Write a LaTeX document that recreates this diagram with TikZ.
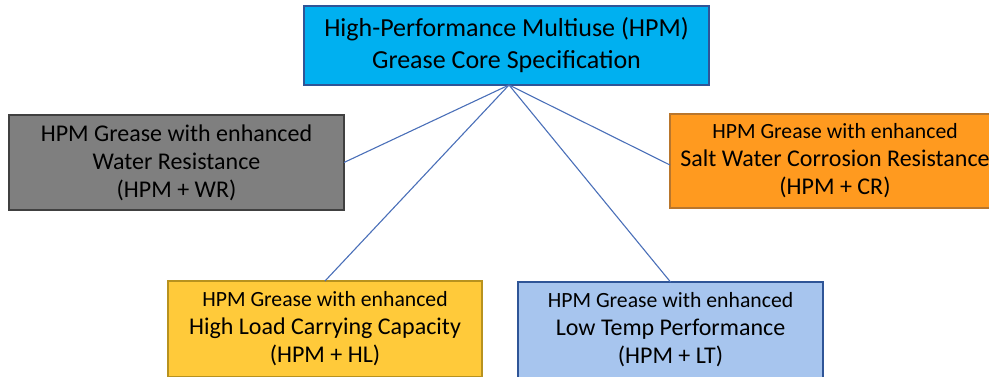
\documentclass[tikz,border=0pt]{standalone}
\usepackage{fontspec}
\setmainfont{Carlito}
\usepackage{tikz}
\usetikzlibrary{positioning}

\definecolor{corefill}{HTML}{00B0F0}
\definecolor{coredraw}{HTML}{2F5597}
\definecolor{wrfill}{HTML}{7F7F7F}
\definecolor{wrdraw}{HTML}{404040}
\definecolor{crfill}{HTML}{FF9A1F}
\definecolor{crdraw}{HTML}{B9762C}
\definecolor{hlfill}{HTML}{FFCA3A}
\definecolor{hldraw}{HTML}{B8921E}
\definecolor{ltfill}{HTML}{A7C5EE}
\definecolor{ltdraw}{HTML}{2F5597}
\definecolor{linkcol}{HTML}{4A6FB8}

\newcommand{\leadline}[1]{{\fontsize{21.7}{28}\selectfont #1}}

\begin{document}
\begin{tikzpicture}[x=1pt,y=-1pt,every node/.style={draw,outer sep=0pt,inner sep=0pt,align=center,line width=1.5pt}]

\tikzstyle{corebox}=[fill=corefill,draw=coredraw,minimum width=405pt,minimum height=79pt,font=\fontsize{26}{32}\selectfont]
\tikzstyle{subbox}=[minimum height=95pt,font=\fontsize{24}{28}\selectfont]
\tikzstyle{link}=[draw=linkcol,line width=1.1pt]

\useasboundingbox (0,0) rectangle (989,377);

\node (core) [corebox] at (506.5,45.5) {High-Performance Multiuse (HPM)\\Grease Core Specification};

\node (wr) [subbox,fill=wrfill,draw=wrdraw,minimum width=335pt] at (176.5,162.5) {HPM Grease with enhanced\\Water Resistance\\(HPM + WR)};
\node (cr) [subbox,fill=crfill,draw=crdraw,minimum width=330pt,minimum height=94pt] at (835,161) {\leadline{HPM Grease with enhanced}\\Salt Water Corrosion Resistance\\(HPM + CR)};
\node (hl) [subbox,fill=hlfill,draw=hldraw,minimum width=314pt,minimum height=96pt] at (325,329) {\leadline{HPM Grease with enhanced}\\High Load Carrying Capacity\\(HPM + HL)};
\node (lt) [subbox,fill=ltfill,draw=ltdraw,minimum width=305pt,minimum height=96pt] at (670.5,330) {\leadline{HPM Grease with enhanced}\\Low Temp Performance\\(HPM + LT)};

% spokes from the core spec
\coordinate (hub) at ([xshift=2.5pt]core.south);
\draw [link] (hub) -- (wr.east);
\draw [link] (hub) -- ([yshift=-4pt]cr.west);
\draw [link] (hub) -- (hl.north);
\draw [link] (hub) -- (lt.north);

\end{tikzpicture}
\end{document}
